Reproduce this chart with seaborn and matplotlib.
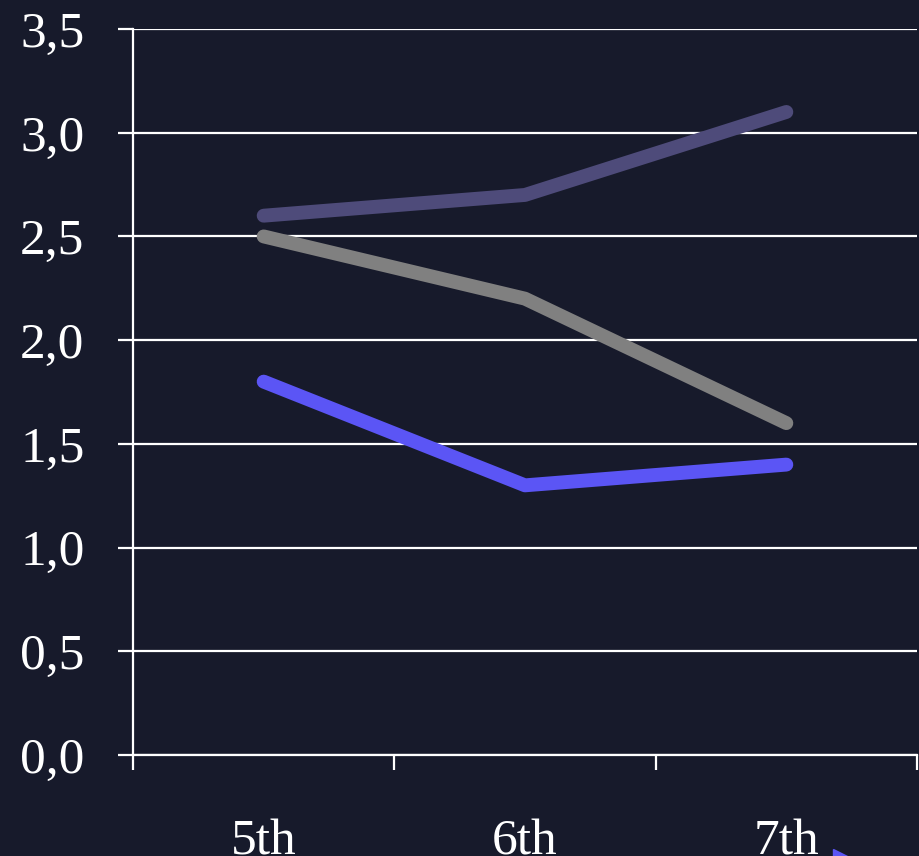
import matplotlib
matplotlib.use("Agg")
import matplotlib.pyplot as plt
import seaborn as sns
import pandas as pd
from matplotlib.lines import Line2D

grades = ["5th", "6th", "7th"]
series_a = [2.6, 2.7, 3.1]
series_b = [2.5, 2.2, 1.6]
series_c = [1.8, 1.3, 1.4]
series_names = ["A", "B", "C"]
colors = ["#4e4b7a", "#808080", "#5b55f5"]
y_ticks = [0.0, 0.5, 1.0, 1.5, 2.0, 2.5, 3.0, 3.5]

bg = "#171a2b"
sns.set_theme(style="dark")
plt.rcParams["font.family"] = ["Liberation Serif", "DejaVu Serif"]

rows = []
for name, vals in zip(series_names, [series_a, series_b, series_c]):
    for i, v in enumerate(vals):
        rows.append({"grade": i, "value": v, "series": name})
df = pd.DataFrame(rows)

fig = plt.figure(figsize=(9.2, 8.56), dpi=100, facecolor=bg)
ax = fig.add_axes([133 / 920, 101 / 856, 784 / 920, 726 / 856])
ax.set_facecolor(bg)

for y in y_ticks:
    ax.axhline(y, color="white", lw=1.6, zorder=1)

sns.lineplot(data=df, x="grade", y="value", hue="series", palette=colors,
             linewidth=10, legend=False, ax=ax, zorder=3,
             solid_capstyle="round", solid_joinstyle="round")

ax.set_xlim(-0.5, 2.5)
ax.set_ylim(0, 3.5)
ax.set_yticks(y_ticks)
ax.set_yticklabels([f"{v:.1f}".replace(".", ",") for v in y_ticks])
ax.set_xticks([-0.5, 0.5, 1.5, 2.5])
ax.set_xticklabels([])
ax.set_xticks([0, 1, 2], minor=True)
ax.set_xticklabels(grades, minor=True)
ax.tick_params(axis="x", which="minor", length=0, pad=46, labelsize=37, colors="white")
ax.tick_params(axis="x", which="major", length=11, width=1.6, colors="white", direction="out")
ax.tick_params(axis="y", length=11, width=1.6, colors="white", pad=24, labelsize=37)
ax.tick_params(axis="both", bottom=True, left=True)
ax.set_xlabel("")
ax.set_ylabel("")

for side in ["top", "right"]:
    ax.spines[side].set_visible(False)
for side in ["left", "bottom"]:
    ax.spines[side].set_visible(True)
    ax.spines[side].set_color("white")
    ax.spines[side].set_linewidth(1.6)

fig.add_artist(Line2D([848 / 920], [-8 / 856], marker=">", markersize=22,
                      color="#5b55f5", transform=fig.transFigure, clip_on=False))

fig.savefig("out.png", dpi=100, facecolor=bg)
